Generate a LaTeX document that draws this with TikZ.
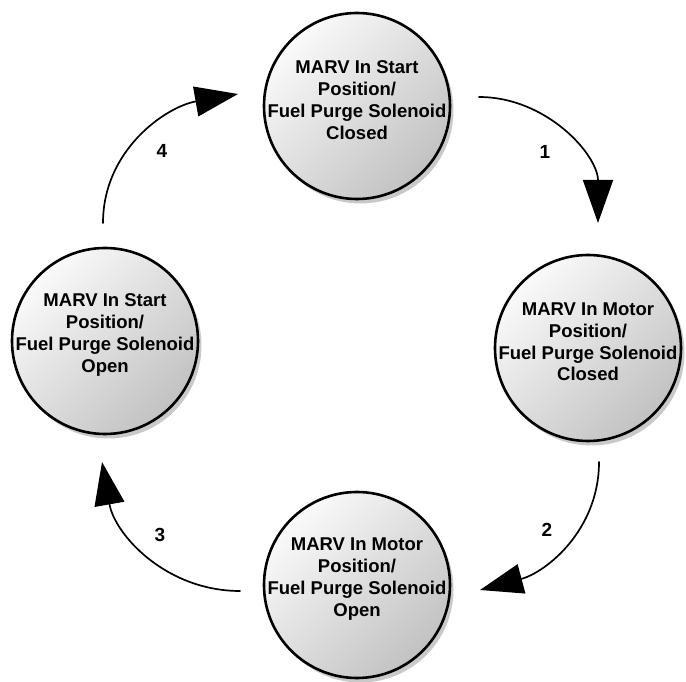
\documentclass[tikz,border=0pt]{standalone}
\usepackage{fontspec}
\setmainfont{Liberation Sans}
\usepackage{tikz}
\usetikzlibrary{arrows.meta}
\usetikzlibrary{shadows}

\begin{document}
\begin{tikzpicture}[x=1pt,y=1pt,line cap=round,line join=round,
  stnode/.style={circle,draw,line width=2.6pt,minimum size=186pt,inner sep=0pt,
    top color=black!2,bottom color=black!24,shading angle=45,
    drop shadow={shadow xshift=3.5pt,shadow yshift=-4.5pt,fill=black!42}},
  sttext/.style={align=center,font=\fontsize{18.5}{21.8}\selectfont\bfseries,yshift=6pt},
  trans/.style={line width=1.7pt,-{Triangle[length=43pt,width=30pt]}},
  num/.style={font=\fontsize{19}{22}\selectfont\bfseries}]
\useasboundingbox (0,0) rectangle (686,681);
\node[stnode] (s1) at (357,575) {};
\node[stnode] (s2) at (588,333) {};
\node[stnode] (s3) at (357,96) {};
\node[stnode] (s4) at (105,340) {};
\node[sttext] (t1) at (s1) {MARV In Start\\Position/\\Fuel Purge Solenoid\\Closed};
\node[sttext] (t2) at (s2) {MARV In Motor\\Position/\\Fuel Purge Solenoid\\Closed};
\node[sttext] (t3) at (s3) {MARV In Motor\\Position/\\Fuel Purge Solenoid\\Open};
\node[sttext] (t4) at (s4) {MARV In Start\\Position/\\Fuel Purge Solenoid\\Open};
\draw[trans] ([shift={(122,9)}]s1.center) to[out=0,in=90] ([shift={(10,125)}]s2.center);
\draw[trans] ([shift={(11,-114)}]s2.center) to[out=-90,in=15] ([shift={(123,-5)}]s3.center);
\draw[trans] ([shift={(-117,-6)}]s3.center) to[out=180,in=-80] ([shift={(-3,-121)}]s4.center);
\draw[trans] ([shift={(-2,118)}]s4.center) to[out=90,in=190] ([shift={(-119,12)}]s1.center);
\node[num] (n1) at (545,529) {1};
\node[num] (n2) at (547,151) {2};
\node[num] (n3) at (160,146) {3};
\node[num] (n4) at (162,530) {4};
\end{tikzpicture}
\end{document}
